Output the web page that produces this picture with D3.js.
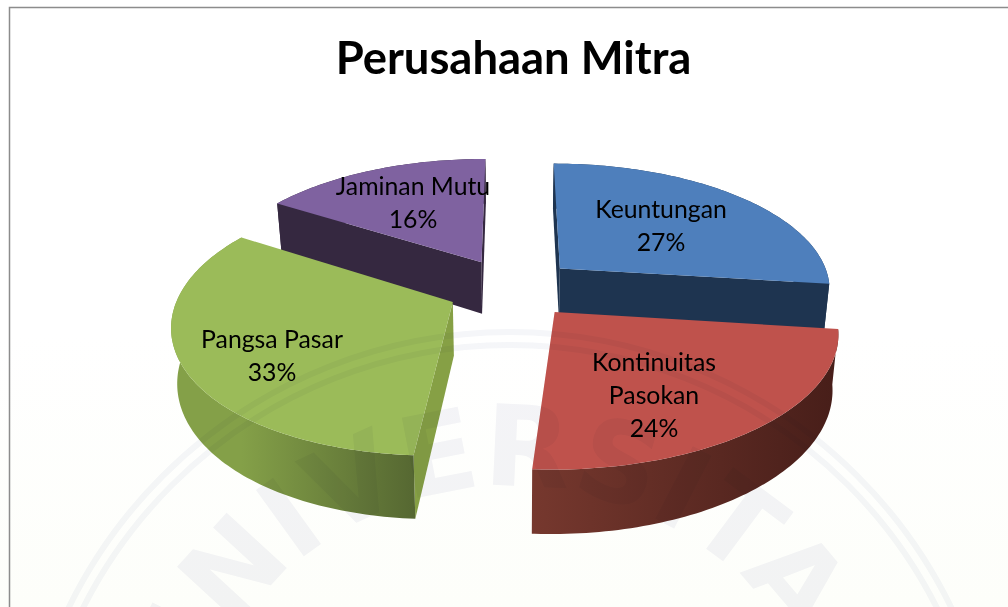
<!DOCTYPE html>
<html><head><meta charset="utf-8">
<script src="https://cdn.jsdelivr.net/npm/d3@7"></script>
<style>html,body{margin:0;padding:0;background:#fff;overflow:hidden}svg{display:block}</style>
</head><body><div id="c"></div>
<script>
const title = "Perusahaan Mitra";
const categories = ["Keuntungan","Kontinuitas Pasokan","Pangsa Pasar","Jaminan Mutu"];
const values = [27,24,33,16];
const labelLines = [["Keuntungan","27%"],["Kontinuitas","Pasokan","24%"],["Pangsa Pasar","33%"],["Jaminan Mutu","16%"]];
const topColors = ["#4e7fbc","#bf524c","#9bbb59","#7f62a0"];
const faceColors = ["#1e3450","#5a2620","#86a045","#352840"];
const rimStart = ["#1e3450","#471e19","#566832","#352840"];
const rimEnd = ["#1e3450","#76382e","#84a048","#352840"];
const watermark = "UNIVERSITAS";

const W=1008,H=607;
const cx=512,cy=288,Rx=272,Sy=126,k=0.15,explode=0.24,depth=53;
// layout of the label blocks (centre x, first baseline)
const labelX=[661,654,272,413], labelY=[218,371,348,195], lineH=33;

const svg=d3.select("#c").append("svg").attr("width",W).attr("height",H);
const defs=svg.append("defs");
svg.append("rect").attr("width",W).attr("height",H).attr("fill","#fff");
const bg=defs.append("linearGradient").attr("id","bg").attr("x1",0).attr("x2",0).attr("y1",0).attr("y2",1);
bg.append("stop").attr("offset","0.55").attr("stop-color","#ffffff");
bg.append("stop").attr("offset","1").attr("stop-color","#fdfefa");
svg.append("rect").attr("width",W).attr("height",H).attr("fill","url(#bg)");
svg.append("path").attr("d",`M9.5 ${H}V7.5H${W}`).attr("fill","none").attr("stroke","#8c8c8c").attr("stroke-width",1.5);

svg.append("text").attr("x",513.5).attr("y",74).attr("text-anchor","middle")
  .attr("font-family","Lato, 'Open Sans', sans-serif").attr("font-weight",700).attr("font-size",45.4)
  .attr("fill","#000").text(title);

const slices=d3.pie().sort(null).value(d=>d)(values);
function project(u,v,z){
  const w=1+k*v;
  let x=u/w*Rx, y=-v/w*Sy;
  x-=9*Math.pow(Math.max(0,y)/175,2); // the picture's front edge leans slightly left
  if(z){ y+=depth/w; x*=0.982; }
  return [cx+x,cy+y];
}
const line=d3.line();
const g=svg.append("g");

function drawSlice(s,i){
  const mid=(s.startAngle+s.endAngle)/2;
  const ax=explode*Math.sin(mid), av=explode*Math.cos(mid);
  const rim=(t,z)=>project(ax+Math.sin(t),av+Math.cos(t),z);
  const apex=z=>project(ax,av,z);
  const group=g.append("g").attr("class","slice");
  [[s.startAngle,-1],[s.endAngle,1]].forEach(([t,sgn])=>{
    const n=[sgn*Math.cos(t),-sgn*Math.sin(t)];
    if(n[0]*(0-ax)+n[1]*(-1/k-av)>0){
      group.append("path").attr("d",line([apex(0),rim(t,0),rim(t,1),apex(1)])+"Z")
        .attr("fill",faceColors[i]);
    }
  });
  const ts=d3.range(s.startAngle,s.endAngle,0.02).concat([s.endAngle]);
  const grad=defs.append("linearGradient").attr("id","rim"+i).attr("gradientUnits","userSpaceOnUse")
    .attr("x1",rim(s.startAngle,0)[0]).attr("y1",0).attr("x2",rim(s.endAngle,0)[0]).attr("y2",0);
  grad.append("stop").attr("offset",0).attr("stop-color",rimStart[i]);
  grad.append("stop").attr("offset",1).attr("stop-color",rimEnd[i]);
  const wall=ts.map(t=>rim(t,0)).concat(ts.slice().reverse().map(t=>rim(t,1)));
  group.append("path").attr("d",line(wall)+"Z").attr("fill",`url(#rim${i})`);
  const pts=[apex(0)].concat(ts.map(t=>rim(t,0)));
  group.append("path").attr("d",line(pts)+"Z").attr("fill",topColors[i]);
}
[0,3,2,1].forEach(i=>drawSlice(slices[i],i));

// faint repository watermark
const wx=510,wy=823;
const wm=svg.append("g").style("mix-blend-mode","multiply");
[491,478].forEach(r=>wm.append("circle").attr("cx",wx).attr("cy",wy).attr("r",r)
  .attr("fill","none").attr("stroke","#f5f6f9").attr("stroke-width",6));
defs.append("path").attr("id","wmArc")
  .attr("d",`M${wx-337} ${wy}A337 337 0 0 1 ${wx+337} ${wy}`);
wm.append("text").attr("font-family","'DejaVu Sans', sans-serif").attr("font-weight",700)
  .attr("font-size",112).attr("fill","#f4f4f8")
  .append("textPath").attr("href","#wmArc").attr("startOffset","50%").attr("text-anchor","middle").text(watermark);

// data labels
labelLines.forEach((lines,i)=>{
  const t=svg.append("text").attr("text-anchor","middle")
    .attr("font-family","Lato, 'Open Sans', sans-serif").attr("font-size",24.8).attr("fill","#000");
  lines.forEach((l,j)=>t.append("tspan").attr("x",labelX[i]).attr("y",labelY[i]+j*lineH).text(l));
});
</script></body></html>
